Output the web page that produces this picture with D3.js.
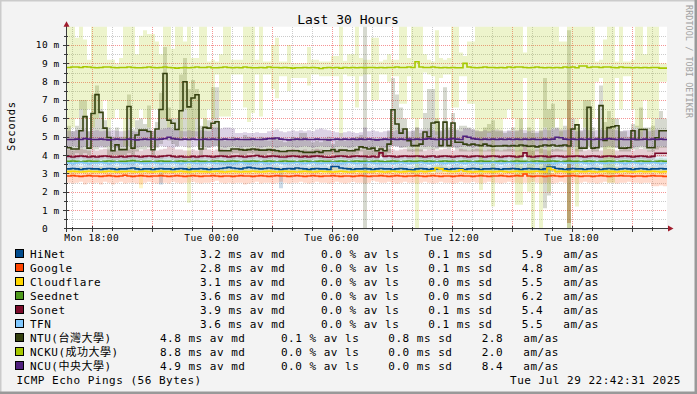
<!DOCTYPE html>
<html><head><meta charset="utf-8">
<script src="https://cdn.jsdelivr.net/npm/d3@7"></script>
<style>
html,body{margin:0;padding:0;background:#f3f3f3;}
svg{display:block;}
text{font-family:"DejaVu Sans Mono","Noto Sans CJK TC",monospace;}
</style></head><body>
<svg id="c" width="697" height="394"></svg>
<script>
// ---------- DATA ----------
const hosts = ["HiNet","Google","Cloudflare","Seednet","Sonet","TFN","NTU(台灣大學)","NCKU(成功大學)","NCU(中央大學)"];
const hostColors = ["#004b8d","#ff4500","#ffd700","#4f9a1e","#7b0a2a","#80c8ff","#34400f","#a6c800","#4f1f7d"];
const medianMs = [3.2,2.8,3.1,3.6,3.9,3.6,4.8,8.8,4.9];
const lossPct  = [0.0,0.0,0.0,0.0,0.0,0.0,0.1,0.0,0.0];
const sdMs     = [0.1,0.1,0.0,0.0,0.1,0.1,0.8,0.0,0.0];
const amas     = [5.9,4.8,5.5,6.2,5.4,5.5,2.8,2.0,8.4];
const yTickValues = [0,1,2,3,4,5,6,7,8,9,10];
const titleText = "Last 30 Hours";
const footerText = "ICMP Echo Pings (56 Bytes)";
const dateText = "Tue Jul 29 22:42:31 2025";

// 150 bins of 12 minutes, starting Mon 28 Jul 16:46
const hinetMed = [3.25,3.27,3.25,3.22,3.25,3.27,3.25,3.25,3.22,3.25, 3.27,3.25,3.22,3.25,3.25,3.27,3.3,3.25,3.22,3.25, 3.25,3.22,3.25,3.27,3.25,3.25,3.22,3.25,3.27,3.25, 3.22,3.25,3.25,3.27,3.25,3.22,3.25,3.25,3.27,3.3, 3.33,3.3,3.27,3.25,3.3,3.33,3.3,3.27,3.25,3.27, 3.3,3.27,3.25,3.22,3.25,3.27,3.25,3.3,3.27,3.25, 3.22,3.25,3.27,3.25,3.25,3.22,3.38,3.38,3.3,3.27, 3.25,3.22,3.25,3.25,3.27,3.25,3.22,3.25,3.27,3.25, 3.25,3.22,3.25,3.27,3.25,3.22,3.2,3.25,3.27,3.25, 3.22,3.25,3.25,3.27,3.25,3.22,3.25,3.27,3.25,3.22, 3.25,3.27,3.25,3.22,3.25,3.25,3.27,3.25,3.22,3.25, 3.25,3.27,3.25,3.22,3.25,3.27,3.25,3.25,3.22,3.25, 3.35,3.35,3.27,3.25,3.22,3.25,3.27,3.25,3.25,3.22, 3.25,3.27,3.25,3.22,3.25,3.27,3.25,3.22,3.25,3.27, 3.25,3.22,3.25,3.27,3.25,3.22,3.25,3.25,3.27,3.25];
const hinetLo = [3.1,3.05,3.1,3.1,3.05,3.1,3.05,3.1,3.05,3.1, 3.05,3.1,3.05,3.1,3.1,3.05,3.1,3.05,3.1,3.05, 3.1,3.05,3.1,2.4,3.05,3.1,3.05,3.1,3.05,3.1, 3.05,3.1,3.05,3.1,3.1,3.05,3.1,3.05,3.1,3.1, 3.15,3.1,3.1,3.05,3.1,3.15,3.1,3.1,3.05,3.1, 3.1,3.05,3.1,2.2,3.05,3.1,3.05,3.1,3.05,3.1, 3.05,3.1,3.05,3.1,3.1,3.05,3.15,3.15,3.1,3.05, 3.1,3.05,3.1,3.1,3.05,3.1,3.05,3.1,3.05,3.1, 3.05,3.1,3.05,3.1,3.1,3.05,3.0,3.1,3.05,3.1, 3.05,3.1,3.05,3.1,3.1,3.05,3.1,3.05,3.1,3.05, 3.1,3.05,3.1,3.05,3.1,3.1,3.05,3.1,3.05,3.1, 3.05,3.1,3.05,3.1,3.05,3.1,3.1,3.05,3.1,3.05, 3.1,3.1,3.05,3.1,3.05,3.05,3.05,3.1,3.05,3.1, 3.05,3.1,3.05,3.1,3.1,3.05,3.1,3.05,3.1,3.05, 3.1,3.05,3.1,3.05,3.1,3.1,3.05,3.1,3.05,3.1];
const hinetHi = [3.45,3.5,3.45,3.4,3.45,3.5,3.45,3.45,3.4,3.45, 3.5,3.45,3.4,3.45,3.45,3.5,3.55,3.45,3.4,3.45, 3.45,3.4,3.45,3.5,3.45,3.45,3.4,3.45,3.5,3.45, 3.4,3.45,3.45,3.5,3.45,3.4,3.45,3.45,3.5,3.55, 3.55,3.5,3.5,3.45,3.5,3.55,3.5,3.5,3.45,3.5, 3.5,3.45,3.45,3.4,3.45,3.5,3.45,3.5,3.5,3.45, 3.4,3.45,3.5,3.45,3.45,3.4,3.6,3.6,3.5,3.5, 3.45,3.4,3.45,3.45,3.5,3.45,3.4,3.45,3.5,3.45, 3.45,3.4,3.45,3.5,3.45,3.4,3.4,3.45,3.5,3.45, 3.4,3.45,3.45,3.5,3.45,3.4,3.45,3.5,3.45,3.4, 3.45,3.5,3.45,3.4,3.45,3.45,3.5,3.45,3.4,3.45, 3.45,3.5,3.45,3.4,3.45,3.5,3.45,3.45,3.4,3.45, 3.55,3.55,3.5,3.45,3.4,3.5,3.5,3.45,3.45,3.4, 3.45,3.5,3.45,3.4,3.45,3.5,3.45,3.4,3.45,3.5, 3.45,3.4,3.45,3.5,3.45,3.4,3.45,3.45,3.5,3.45];

const googleMed = [2.86,2.88,2.86,2.84,2.86,2.88,2.86,2.86,2.84,2.86, 2.88,2.86,2.84,2.86,2.9,2.86,2.84,2.86,2.88,2.86, 2.84,2.86,2.86,2.88,2.86,2.84,2.86,2.88,2.86,2.84, 2.86,2.88,2.86,2.84,2.86,2.86,2.88,2.86,2.84,2.86, 2.86,2.84,2.86,2.88,2.86,2.86,2.84,2.86,2.88,2.86, 2.84,2.86,2.88,2.86,2.86,2.84,2.86,2.88,2.86,2.84, 2.86,2.88,2.86,2.84,2.86,2.86,2.88,2.86,2.84,2.86, 2.86,2.84,2.86,2.88,2.86,2.84,2.86,2.86,2.88,2.86, 2.84,2.86,2.88,2.86,2.84,2.86,2.86,2.88,2.86,2.84, 2.86,2.88,2.86,2.84,2.86,2.86,2.84,2.86,2.88,2.86, 2.86,2.84,2.86,2.88,2.86,2.84,2.86,2.86,2.88,2.86, 2.84,2.86,2.88,2.86,2.97,2.86,2.84,2.86,2.86,2.84, 2.86,2.88,2.86,2.84,2.86,2.86,2.88,2.86,2.84,2.86, 2.86,2.84,2.86,2.88,2.86,2.84,2.86,2.86,2.88,2.86, 2.86,2.84,2.86,2.86,2.84,2.86,2.88,2.86,2.86,2.84];
const googleLo = [2.5,2.45,2.5,2.55,2.4,2.5,2.45,2.5,2.4,2.55, 2.5,2.4,2.5,2.55,2.45,2.5,2.5,2.45,2.4,2.5, 2.55,2.5,2.45,2.5,2.5,2.45,2.55,2.5,2.45,2.5, 2.5,2.55,2.5,2.45,2.5,2.5,2.55,2.6,2.5,2.45, 2.5,2.45,2.5,2.5,2.4,2.45,2.5,2.55,2.45,2.5, 2.5,2.45,2.5,2.55,2.5,2.45,2.5,2.5,2.55,2.5, 2.45,2.5,2.55,2.5,2.5,2.45,2.5,2.55,2.5,2.45, 2.5,2.55,2.5,2.5,2.45,2.5,2.6,2.55,2.5,2.5, 2.55,2.5,2.45,2.5,2.55,2.5,2.5,2.45,2.5,2.55, 2.5,2.45,2.5,2.55,2.5,2.5,2.45,2.5,2.55,2.5, 2.5,2.55,2.5,2.45,2.5,2.55,2.5,2.5,2.45,2.5, 2.55,2.5,2.5,2.45,2.5,2.5,2.55,2.5,2.45,2.5, 2.5,2.45,2.5,2.55,2.5,0.3,2.5,2.45,2.5,2.55, 2.5,2.5,2.45,2.5,2.55,2.5,2.5,2.45,2.5,2.5, 2.55,2.5,2.5,2.45,2.5,2.5,2.3,2.3,2.35,2.3];
const googleHi = [3.05,3.1,3.05,3.0,3.05,3.1,3.05,3.05,3.0,3.1, 3.05,3.0,3.05,3.1,3.05,3.05,3.1,3.0,3.05,3.05, 3.1,3.05,3.0,3.05,3.1,3.05,3.05,3.0,3.05,3.1, 3.05,3.0,3.05,3.05,3.1,3.05,3.0,3.05,3.1,3.05, 3.05,3.1,3.05,3.0,3.05,3.1,3.05,3.05,3.0,3.05, 3.1,3.05,3.0,3.05,3.05,3.1,3.05,3.0,3.05,3.1, 3.05,3.05,3.1,3.05,3.0,3.05,3.1,3.05,3.05,3.0, 3.05,3.1,3.05,3.05,3.0,3.05,3.1,3.05,3.0,3.05, 3.1,3.05,3.0,3.05,3.1,3.05,3.05,3.0,3.05,3.1, 3.05,3.0,3.05,3.1,3.05,3.05,3.0,3.05,3.1,3.05, 3.05,3.1,3.05,3.0,3.05,3.1,3.05,3.05,3.0,3.05, 3.1,3.05,3.0,3.05,3.15,3.05,3.05,3.0,3.05,3.1, 3.05,3.0,3.05,3.1,3.05,7.0,3.05,3.0,3.05,3.1, 3.05,3.1,3.05,3.0,3.05,3.1,3.05,3.05,3.0,3.05, 3.1,3.05,3.0,3.05,3.1,3.05,3.05,3.0,3.05,3.1];

const cloudflareMed = [3.1,3.12,3.1,3.08,3.1,3.12,3.1,3.1,3.08,3.1, 3.12,3.1,3.08,3.1,3.1,3.12,3.1,3.08,3.1,3.12, 3.1,3.08,3.1,3.12,3.1,3.1,3.08,3.1,3.12,3.1, 3.08,3.1,3.12,3.1,3.1,3.08,3.1,3.12,3.1,3.08, 3.1,3.12,3.1,3.08,3.1,3.1,3.12,3.1,3.08,3.1, 3.12,3.1,3.08,3.1,3.12,3.1,3.1,3.08,3.1,3.12, 3.1,3.08,3.1,3.12,3.1,3.1,3.08,3.1,3.12,3.1, 3.08,3.1,3.12,3.1,3.1,3.08,3.1,3.12,3.1,3.08, 3.1,3.12,3.1,3.08,3.1,3.12,3.1,3.1,3.12,3.1, 3.12,3.15,3.3,3.25,3.15,3.12,3.1,3.12,3.2,3.12, 3.1,3.08,3.1,3.12,3.1,3.1,3.08,3.1,3.12,3.1, 3.08,3.1,3.12,3.1,3.1,3.08,3.1,3.12,3.1,3.08, 3.3,3.2,3.1,3.12,3.1,3.08,3.1,3.12,3.1,3.1, 3.12,3.1,3.08,3.1,3.12,3.1,3.1,3.08,3.1,3.12, 3.1,3.08,3.1,3.12,3.1,3.1,3.12,3.1,3.08,3.1];
const cloudflareLo = [2.95,2.9,2.95,3.0,2.95,2.9,2.95,2.95,3.0,2.95, 2.9,2.95,3.0,2.95,2.9,2.95,2.95,3.0,2.2,2.95, 2.95,3.0,2.95,2.9,2.95,2.95,3.0,2.95,2.9,2.95, 3.0,2.95,2.9,2.95,2.95,3.0,2.95,2.9,2.95,2.95, 2.95,2.9,2.95,3.0,2.95,2.9,2.95,2.95,3.0,2.95, 2.9,2.95,3.0,2.95,2.9,2.95,2.95,3.0,2.95,2.9, 2.95,3.0,2.95,2.9,2.95,2.95,3.0,2.95,2.9,2.95, 3.0,2.95,2.9,2.95,2.95,3.0,2.95,2.9,2.95,2.95, 2.95,2.9,2.95,3.0,2.95,2.9,2.95,2.95,3.0,2.95, 2.9,2.95,3.0,3.0,2.95,2.9,2.95,2.95,3.0,2.95, 2.95,3.0,2.95,2.9,2.95,2.95,3.0,2.95,2.9,2.95, 3.0,2.95,2.9,2.95,2.95,3.0,2.95,2.9,2.95,2.95, 2.95,2.9,2.95,3.0,2.95,2.95,2.95,2.95,3.0,2.95, 2.9,2.95,3.0,2.95,2.9,2.95,2.95,3.0,2.95,2.9, 2.95,3.0,2.95,2.9,2.95,2.95,3.0,2.95,2.9,2.95];
const cloudflareHi = [3.3,3.25,3.3,3.35,3.3,3.25,3.3,3.3,3.35,3.3, 3.25,3.3,3.35,3.3,3.25,3.3,3.3,3.35,3.3,3.25, 3.3,3.35,3.3,3.25,3.3,3.3,3.35,3.3,3.25,3.3, 3.35,3.3,3.25,3.3,3.3,3.35,3.3,3.25,3.3,3.3, 3.3,3.25,3.3,3.35,3.3,3.25,3.3,3.3,3.35,3.3, 3.25,3.3,3.35,3.3,3.25,3.3,3.3,3.35,3.3,3.25, 3.3,3.35,3.3,3.25,3.3,3.3,3.35,3.3,3.25,3.3, 3.35,3.3,3.25,3.3,3.3,3.35,3.3,3.25,3.3,3.3, 3.3,3.25,3.3,3.35,3.3,3.25,3.3,3.3,3.35,3.3, 3.3,3.35,3.45,3.45,3.35,3.3,3.3,3.3,3.4,3.3, 3.3,3.35,3.3,3.25,3.3,3.3,3.35,3.3,3.25,3.3, 3.35,3.3,3.25,3.3,3.3,3.35,3.3,3.25,3.3,3.3, 3.45,3.4,3.3,3.35,3.3,3.3,3.3,3.3,3.35,3.3, 3.25,3.3,3.35,3.3,3.25,3.3,3.3,3.35,3.3,3.25, 3.3,3.35,3.3,3.25,3.3,3.3,3.35,3.3,3.25,3.3];

const seednetMed = [3.66,3.68,3.66,3.64,3.66,3.68,3.66,3.66,3.64,3.66, 3.68,3.66,3.64,3.66,3.66,3.68,3.7,3.66,3.64,3.66, 3.66,3.64,3.66,3.68,3.66,3.66,3.64,3.66,3.68,3.66, 3.64,3.66,3.68,3.66,3.66,3.64,3.66,3.68,3.66,3.64, 3.66,3.68,3.66,3.64,3.66,3.66,3.68,3.66,3.64,3.66, 3.68,3.66,3.64,3.66,3.68,3.66,3.66,3.64,3.66,3.68, 3.66,3.64,3.66,3.68,3.66,3.66,3.64,3.66,3.68,3.66, 3.64,3.66,3.68,3.66,3.66,3.64,3.66,3.68,3.66,3.64, 3.66,3.68,3.66,3.64,3.66,3.68,3.66,3.66,3.68,3.66, 3.68,3.66,3.64,3.66,3.68,3.66,3.66,3.64,3.66,3.68, 3.66,3.64,3.66,3.68,3.66,3.66,3.64,3.66,3.68,3.66, 3.64,3.66,3.68,3.66,3.66,3.64,3.66,3.68,3.66,3.64, 3.66,3.68,3.66,3.64,3.66,3.68,3.66,3.66,3.64,3.66, 3.68,3.66,3.64,3.66,3.66,3.68,3.66,3.64,3.66,3.68, 3.66,3.64,3.66,3.68,3.66,3.66,3.64,3.66,3.68,3.66];
const seednetLo = [3.52,3.5,3.52,3.55,3.52,3.5,3.52,3.52,3.55,3.52, 3.5,3.52,3.55,3.52,3.5,3.52,3.52,3.55,3.52,3.5, 3.52,3.55,3.52,3.5,3.52,3.52,3.55,3.52,3.5,3.52, 3.55,3.52,3.5,3.52,3.52,3.55,3.52,3.5,3.52,3.52, 3.52,3.5,3.52,3.55,3.52,3.5,3.52,3.52,3.55,3.52, 3.5,3.52,3.55,3.52,3.5,3.52,3.52,3.55,3.52,3.5, 3.52,3.55,3.52,3.5,3.52,3.52,3.55,3.52,3.5,3.52, 3.55,3.52,3.5,3.52,3.52,3.55,3.52,3.5,3.52,3.52, 3.52,3.5,3.52,3.55,3.52,3.5,3.52,3.52,3.55,3.52, 3.5,3.52,3.55,3.52,3.5,3.52,3.52,3.55,3.52,3.5, 3.52,3.55,3.52,3.5,3.52,3.52,3.55,3.52,3.5,3.52, 3.55,3.52,3.5,3.52,3.52,3.55,3.52,3.5,3.52,3.52, 3.52,3.5,3.52,3.55,3.52,3.52,3.52,3.52,3.55,3.52, 3.5,3.52,3.55,3.52,3.5,3.52,3.52,3.55,3.52,3.5, 3.52,3.55,3.52,3.5,3.52,3.52,3.55,3.52,3.5,3.52];
const seednetHi = [3.82,3.85,3.82,3.8,3.82,3.85,3.82,3.82,3.8,3.82, 3.85,3.82,3.8,3.82,3.82,3.85,3.88,3.82,3.8,3.82, 3.82,3.8,3.82,3.85,3.82,3.82,3.8,3.82,3.85,3.82, 3.8,3.82,3.85,3.82,3.82,3.8,3.82,3.85,3.82,3.8, 3.82,3.85,3.82,3.8,3.82,3.82,3.85,3.82,3.8,3.82, 3.85,3.82,3.8,3.82,3.85,3.82,3.82,3.8,3.82,3.85, 3.82,3.8,3.82,3.85,3.82,3.82,3.8,3.82,3.85,3.82, 3.8,3.82,3.85,3.82,3.82,3.8,3.82,3.85,3.82,3.8, 3.82,3.85,3.82,3.8,3.82,3.85,3.82,3.82,3.85,3.82, 3.85,3.82,3.8,3.82,3.85,3.82,3.82,3.8,3.82,3.85, 3.82,3.8,3.82,3.85,3.82,3.82,3.8,3.82,3.85,3.82, 3.8,3.82,3.85,3.82,3.82,3.8,3.82,3.85,3.82,3.8, 3.82,3.85,3.82,3.8,3.82,3.82,3.82,3.82,3.8,3.82, 3.85,3.82,3.8,3.82,3.82,3.85,3.82,3.8,3.82,3.85, 3.82,3.8,3.82,3.85,3.82,3.82,3.8,3.82,3.85,3.82];

const sonetMed = [3.93,3.9,3.93,3.95,3.93,3.9,3.93,3.9,3.93,3.95, 3.93,3.9,3.9,3.93,3.9,3.93,3.95,3.93,3.9,3.93, 3.95,3.93,3.9,3.93,3.95,3.98,3.93,3.9,3.93,3.9, 3.9,3.93,3.9,3.93,3.95,3.93,3.9,3.93,3.95,3.93, 3.9,3.93,3.95,3.93,3.9,3.93,3.95,3.98,3.93,3.9, 3.93,3.95,3.93,3.9,3.9,3.93,3.95,3.93,3.9,3.93, 3.9,3.93,3.95,3.93,3.9,3.88,3.9,3.93,3.95,3.93, 3.9,3.93,3.95,3.93,3.93,3.9,3.93,3.9,4.12,3.93, 3.95,3.93,3.9,3.93,3.95,3.93,3.93,3.95,3.93,3.9, 3.93,3.95,3.9,3.93,3.95,3.93,3.9,3.93,3.95,3.93, 3.9,3.93,3.95,3.93,3.9,3.93,3.95,3.93,3.9,3.93, 3.95,3.93,3.9,3.93,4.12,3.93,3.9,3.93,3.95,3.93, 3.9,3.93,3.95,3.93,3.9,3.93,3.93,3.95,3.93,3.9, 3.93,3.95,3.93,3.9,3.93,3.95,3.93,3.9,3.93,3.95, 3.93,3.9,3.93,3.95,3.93,3.9,3.93,4.1,4.1,4.1];
const sonetLo = [3.78,3.75,3.78,3.8,3.78,3.75,3.78,3.75,3.78,3.8, 3.78,3.75,3.75,3.78,3.75,3.78,3.8,3.78,3.75,3.78, 3.8,3.78,3.75,3.78,3.8,3.82,3.78,3.75,3.78,3.75, 3.75,3.78,3.75,3.78,3.8,3.78,3.75,3.78,3.8,3.78, 3.75,3.78,3.8,3.78,3.75,3.78,3.8,3.82,3.78,3.75, 3.78,3.8,3.78,3.75,3.75,3.78,3.8,3.78,3.75,3.78, 3.75,3.78,3.8,3.78,3.75,3.72,3.75,3.78,3.8,3.78, 3.75,3.78,3.8,3.78,3.78,3.75,3.78,3.75,3.9,3.78, 3.8,3.78,3.75,3.78,3.8,3.78,3.78,3.8,3.78,3.75, 3.78,3.8,3.75,3.78,3.8,3.78,3.75,3.78,3.8,3.78, 3.75,3.78,3.8,3.78,3.75,3.78,3.8,3.78,3.75,3.78, 3.8,3.78,3.75,3.78,3.9,3.78,3.75,3.78,3.8,3.78, 3.75,3.78,3.8,3.78,3.75,0.3,3.78,3.8,3.78,3.75, 3.78,3.8,3.78,3.75,3.78,3.8,3.78,3.75,3.78,3.8, 3.78,3.75,3.78,3.8,3.78,3.75,3.78,3.9,3.9,3.9];
const sonetHi = [4.3,4.25,4.3,4.35,4.3,4.25,4.3,4.25,4.3,4.35, 4.3,4.25,4.25,4.3,4.25,4.3,4.35,4.3,4.25,4.3, 4.35,4.3,4.25,4.3,4.35,4.45,4.4,4.3,4.3,4.25, 4.25,4.3,4.25,4.3,4.35,4.3,4.25,4.3,4.35,4.3, 4.25,4.3,4.35,4.3,4.25,4.3,4.35,4.4,4.3,4.25, 4.3,4.35,4.3,4.25,4.25,4.3,4.35,4.3,4.25,4.3, 4.25,4.3,4.35,4.3,4.25,4.2,4.25,4.3,4.35,4.3, 4.25,4.3,4.35,4.3,4.3,4.25,4.3,4.25,4.45,4.3, 4.35,4.3,4.25,4.3,4.35,4.3,4.3,4.35,4.3,4.25, 4.3,4.35,4.25,4.3,4.35,4.3,4.25,4.3,4.35,4.3, 4.25,4.3,4.35,4.3,4.25,4.3,4.35,4.3,4.25,4.3, 4.35,4.3,4.25,4.3,4.45,4.3,4.25,4.3,4.35,4.3, 4.25,4.3,4.35,4.3,4.25,7.0,4.3,4.35,4.3,4.25, 4.3,4.35,4.3,4.25,4.3,4.35,4.3,4.25,4.3,4.35, 4.3,4.25,4.3,4.35,4.3,4.25,4.3,4.45,4.45,4.45];

const tfnMed = [3.57,3.55,3.57,3.6,3.57,3.55,3.57,3.57,3.6,3.57, 3.55,3.57,3.6,3.57,3.55,3.57,3.57,3.6,3.57,3.55, 3.57,3.6,3.57,3.55,3.57,3.57,3.6,3.57,3.55,3.57, 3.6,3.57,3.55,3.57,3.57,3.6,3.57,3.55,3.57,3.57, 3.57,3.55,3.57,3.6,3.57,3.55,3.57,3.57,3.6,3.57, 3.55,3.57,3.6,3.57,3.55,3.57,3.57,3.6,3.57,3.55, 3.57,3.6,3.57,3.55,3.57,3.57,3.6,3.57,3.55,3.57, 3.6,3.57,3.55,3.57,3.57,3.6,3.57,3.55,3.57,3.57, 3.57,3.55,3.57,3.6,3.57,3.55,3.57,3.57,3.6,3.57, 3.55,3.57,3.6,3.57,3.55,3.57,3.57,3.6,3.57,3.55, 3.57,3.6,3.57,3.55,3.57,3.57,3.6,3.57,3.55,3.57, 3.6,3.57,3.55,3.57,3.57,3.6,3.57,3.55,3.57,3.57, 3.57,3.55,3.57,3.6,3.57,3.57,3.57,3.57,3.6,3.57, 3.55,3.57,3.6,3.57,3.55,3.57,3.57,3.6,3.57,3.55, 3.57,3.6,3.57,3.55,3.57,3.57,3.6,3.57,3.55,3.57];
const tfnLo = [3.4,3.38,3.42,3.4,3.38,3.4,3.42,3.4,3.38,3.4, 3.42,3.4,3.38,3.4,3.42,3.4,3.38,3.4,3.42,3.4, 3.38,3.4,3.42,3.4,3.38,3.4,3.42,3.4,3.38,3.4, 3.42,3.4,3.38,3.4,3.42,3.4,3.38,3.4,3.42,3.4, 3.38,3.4,3.42,3.4,3.38,3.4,3.42,3.4,3.38,3.4, 3.42,3.4,3.38,3.4,3.42,3.4,3.38,3.4,3.42,3.4, 3.38,3.4,3.42,3.4,3.38,3.4,3.42,3.4,3.38,3.4, 3.42,3.4,3.38,3.4,3.42,3.4,3.38,3.4,3.42,3.4, 3.38,3.4,3.42,3.4,3.38,3.4,3.42,3.4,3.38,3.4, 3.42,3.4,3.38,3.4,3.42,3.4,3.38,3.4,3.42,3.4, 3.38,3.4,3.42,3.4,3.38,3.4,3.42,3.4,3.38,3.4, 3.42,3.4,3.38,3.4,3.42,3.4,3.38,3.4,3.42,3.4, 3.38,3.4,3.42,3.4,3.38,3.4,3.42,3.4,3.38,3.4, 3.42,3.4,3.38,3.4,3.42,3.4,3.38,3.4,3.42,3.4, 3.38,3.4,3.42,3.4,3.38,3.4,3.42,3.4,3.38,3.4];
const tfnHi = [3.9,3.92,3.88,3.9,3.92,3.9,3.88,3.9,3.92,3.9, 3.88,3.9,3.92,3.9,3.88,3.9,3.92,3.9,3.88,3.9, 3.92,3.9,3.88,3.9,3.92,3.9,3.88,3.9,3.92,3.9, 3.88,3.9,3.92,3.9,3.88,3.9,3.92,3.9,3.88,3.9, 3.92,3.9,3.88,3.9,3.92,3.9,3.88,3.9,3.92,3.9, 3.88,3.9,3.92,3.9,3.88,3.9,3.92,3.9,3.88,3.9, 3.92,3.9,3.88,3.9,3.92,3.9,3.88,3.9,3.92,3.9, 3.88,3.9,3.92,3.9,3.88,3.9,3.92,3.9,3.88,3.9, 3.92,3.9,3.88,3.9,3.92,3.9,3.88,3.9,3.92,3.9, 3.88,3.9,3.92,3.9,3.88,3.9,3.92,3.9,3.88,3.9, 3.92,3.9,3.88,3.9,3.92,3.9,3.88,3.9,3.92,3.9, 3.88,3.9,3.92,3.9,3.88,3.9,3.92,3.9,3.88,3.9, 3.92,3.9,3.88,3.9,3.92,3.9,3.88,3.9,3.92,3.9, 3.88,3.9,3.92,3.9,3.88,3.9,3.92,3.9,3.88,3.9, 3.92,3.9,3.88,3.9,3.92,3.9,3.88,3.9,3.92,3.9];

const ntuMed = [4.4,4.33,4.33,5.33,6.1,4.38,6.27,7.3,6.33,5.47, 4.96,4.24,4.56,4.3,4.3,6.65,4.38,5.1,5.36,5.36, 5.29,4.29,5.42,6.49,8.45,5.9,5.74,5.4,6.42,8.0, 6.63,7.11,7.29,4.33,5.51,5.47,5.74,5.82,4.24,4.24, 4.24,4.33,4.33,4.3,4.27,4.3,4.33,4.3,4.27,4.27, 4.3,4.27,4.24,4.2,4.2,4.24,4.24,4.24,4.2,4.15, 4.15,4.15,4.2,4.15,4.24,4.24,4.3,4.2,4.27,4.27, 4.24,4.24,4.3,4.45,4.4,4.33,4.38,4.24,4.33,4.24, 4.6,6.47,5.7,5.2,5.42,4.79,4.52,4.52,4.6,5.26, 5.0,5.75,5.8,4.52,5.8,4.52,5.75,4.7,4.7,4.6, 4.55,4.6,4.55,4.52,4.6,4.52,4.48,4.5,4.5,4.52, 4.5,4.52,4.5,4.55,4.52,4.48,4.5,4.45,4.5,4.55, 4.52,4.55,4.5,4.52,4.55,4.5,5.42,5.65,4.38,4.38, 6.6,4.38,4.4,6.7,4.8,5.5,5.55,5.6,4.38,4.38, 4.4,5.33,4.85,5.4,5.4,4.4,4.4,4.95,5.33,5.33];
const ntuLo = [4.0,4.0,4.1,4.0,4.1,4.0,4.3,4.3,4.5,4.4, 4.0,4.0,4.0,4.0,4.0,4.1,4.0,4.2,4.3,4.3, 4.4,4.0,4.4,4.6,5.0,4.8,4.6,4.5,4.8,5.0, 4.8,4.9,5.0,4.0,4.3,4.4,4.5,4.5,4.0,4.0, 4.0,4.1,4.1,4.0,4.0,4.1,4.1,4.0,4.0,4.0, 4.1,4.0,4.0,3.95,3.95,4.0,4.0,4.0,3.95,3.9, 3.9,3.9,3.95,3.9,4.0,4.0,4.05,3.95,4.0,4.0, 4.0,4.0,4.05,4.2,0.0,4.0,4.0,4.0,4.0,4.0, 4.1,4.5,4.5,4.4,4.4,4.2,4.2,4.2,4.2,4.3, 4.3,4.3,4.3,4.4,4.4,4.3,4.4,4.3,4.2,4.2, 4.2,4.2,4.2,4.2,4.2,4.2,4.2,4.2,4.2,4.2, 4.2,4.2,4.2,4.2,4.2,4.0,4.0,4.2,4.1,1.1, 1.8,4.2,4.2,4.2,4.2,0.0,4.3,4.2,4.2,4.3, 4.4,4.2,4.2,4.4,4.3,4.4,4.4,4.4,4.2,4.2, 4.2,4.3,4.3,4.4,4.3,4.2,4.2,4.3,4.4,4.4];
const ntuHi = [5.6,5.3,5.6,7.0,7.0,5.3,7.3,7.8,6.5,5.9, 5.5,5.0,5.5,5.0,5.0,7.3,5.4,5.9,6.0,5.7, 6.7,5.3,5.8,7.4,9.9,6.6,6.0,6.0,8.4,9.3, 7.6,8.1,7.6,5.6,6.0,5.9,7.7,7.7,4.9,4.8, 4.8,5.0,4.9,4.8,5.1,5.0,4.9,4.8,5.0,4.9, 4.8,5.0,4.9,4.8,4.7,4.8,5.0,4.9,5.2,5.2, 4.8,4.7,4.8,4.7,4.9,5.0,4.6,4.8,4.9,4.8, 4.8,4.9,5.0,5.1,11.5,4.8,4.9,4.9,4.9,4.9, 5.3,8.2,7.3,6.6,6.0,5.0,5.3,5.5,5.2,6.3, 7.6,7.6,6.0,5.3,7.7,5.5,6.3,5.4,5.6,5.6, 5.5,5.4,5.3,5.3,5.5,5.7,5.9,5.3,5.3,5.2, 5.3,5.5,5.3,6.0,5.2,5.5,5.2,5.2,5.3,8.2, 6.5,6.8,5.5,5.3,5.6,10.8,6.0,5.5,5.3,7.0, 7.0,5.5,5.0,7.8,5.8,6.4,6.0,6.0,5.3,5.3, 5.0,5.7,5.6,6.6,5.5,5.5,5.6,6.0,6.4,6.0];

const nckuMed = [8.78,8.8,8.8,8.78,8.82,8.8,8.78,8.76,8.78,8.8, 8.8,8.78,8.76,8.78,8.78,8.8,8.78,8.76,8.76,8.78, 8.8,8.78,8.76,8.78,8.8,8.78,8.76,8.74,8.76,8.78, 8.76,8.78,8.8,8.78,8.78,8.8,8.76,8.76,8.78,8.8, 8.78,8.76,8.78,8.76,8.8,8.78,8.76,8.76,8.78,8.76, 8.8,8.78,8.78,8.76,8.78,8.76,8.74,8.76,8.76,8.78, 8.76,8.78,8.76,8.72,8.76,8.78,8.76,8.78,8.74,8.78, 8.76,8.78,8.76,8.78,8.76,8.78,8.78,8.76,8.78,8.76, 8.78,8.78,8.8,8.78,8.78,8.8,8.78,9.09,8.8,8.78, 8.78,8.8,8.78,8.76,8.78,8.76,8.78,8.76,8.76,9.0, 8.8,8.78,8.76,8.78,8.8,8.78,8.78,8.76,8.78,8.76, 8.8,8.78,8.8,8.8,8.78,8.76,8.78,8.8,8.78,8.76, 8.78,8.76,8.78,8.76,8.8,8.78,8.8,8.76,8.86,8.86, 8.78,8.8,8.8,8.78,8.8,8.8,8.78,8.76,8.8,8.78, 8.78,8.76,8.78,8.76,8.78,8.76,8.78,8.78,8.74,8.74];
const nckuLo = [5.0,5.5,6.0,6.5,6.0,6.5,5.5,6.0,6.5,7.0, 5.5,6.0,6.5,6.0,4.5,6.0,5.5,6.0,6.5,6.0, 5.5,6.5,6.5,6.0,6.0,5.5,6.0,6.0,4.8,6.5, 1.4,5.0,6.0,6.0,5.5,6.5,6.0,8.4,6.1,6.1, 6.1,8.4,8.4,8.4,6.6,5.8,6.3,8.4,6.1,8.4, 8.4,7.6,7.1,8.3,8.3,7.5,8.2,8.2,8.2,8.2, 7.8,8.4,8.4,8.3,8.3,8.3,8.3,8.3,5.0,8.4, 8.3,8.3,6.6,8.3,8.4,8.4,7.0,7.0,8.4,8.4, 8.0,8.3,8.3,6.8,6.8,8.3,6.0,0.0,6.0,8.5, 8.4,8.3,5.1,8.2,8.4,8.4,6.6,6.6,8.3,8.3, 6.8,6.8,5.0,2.1,5.0,5.2,1.2,5.0,5.0,6.0, 6.5,6.0,1.3,1.3,8.2,2.0,0.0,6.0,0.0,5.5, 2.0,5.5,6.0,5.0,6.0,0.0,6.0,1.2,6.0,5.5, 5.0,6.0,8.0,8.2,3.0,2.5,2.5,8.2,6.5,8.3, 8.3,6.5,5.5,5.0,7.0,6.0,5.0,6.0,8.0,8.0];
const nckuHi = [11.5,11.5,10.4,11.5,10.3,9.2,11.5,11.5,11.5,11.5, 9.2,9.2,9.0,9.3,11.5,11.5,11.5,9.5,10.5,10.8, 10.6,10.6,10.2,9.5,11.5,11.5,9.8,11.5,11.5,10.2, 11.5,9.3,9.3,11.5,11.5,9.1,9.2,9.1,9.5,11.5, 11.5,9.2,9.2,9.2,11.5,11.5,11.5,9.2,11.5,9.1, 9.1,10.0,10.4,9.1,9.1,10.0,9.0,9.0,9.0,9.0, 9.9,9.2,9.2,9.1,9.1,9.1,9.4,9.4,11.5,9.15, 9.5,9.5,11.5,9.3,9.2,9.2,10.4,10.4,9.1,9.2, 9.5,9.2,9.2,11.5,11.5,9.3,11.5,11.5,11.5,9.5, 9.2,9.1,10.8,9.3,9.2,9.3,11.5,11.5,9.6,9.4, 10.2,10.2,11.5,11.5,11.5,11.5,11.5,11.5,11.5,11.5, 11.5,11.5,11.5,11.5,9.6,11.5,11.5,11.5,11.5,11.5, 11.5,11.5,11.5,10.2,10.2,11.5,11.5,11.5,11.5,11.5, 11.5,11.5,9.1,9.2,10.3,11.5,11.5,9.1,11.5,9.1, 9.1,9.2,11.5,11.5,9.5,11.5,11.5,11.5,9.0,9.0];

const ncuMed = [4.85,4.85,4.87,4.85,4.9,4.87,4.85,4.85,4.87,4.85, 4.83,4.85,4.87,4.85,4.85,4.87,4.85,4.83,4.85,4.87, 4.85,4.87,4.85,4.87,4.9,4.97,4.9,4.87,4.85,4.87, 4.85,4.87,4.85,4.85,4.87,4.85,4.87,4.85,4.85,4.87, 4.85,4.85,4.87,4.85,4.85,4.85,4.87,4.85,4.85,4.87, 4.9,4.9,4.93,4.87,4.85,4.83,4.85,4.87,4.85,4.87, 4.85,4.85,4.87,4.85,4.85,4.83,4.85,4.87,4.85,4.87, 4.85,4.87,4.85,4.87,4.85,4.87,4.85,4.83,4.85,4.87, 4.85,4.87,4.85,4.87,4.85,4.87,4.85,4.87,4.85,4.87, 4.9,4.87,4.85,4.87,4.85,4.87,4.9,4.87,4.85,5.03, 4.97,4.9,4.87,4.85,4.87,4.85,4.87,4.85,4.87,4.85, 4.87,4.85,4.87,4.85,4.87,4.85,4.87,4.85,4.85,4.87, 4.85,4.87,4.97,4.95,4.87,4.85,4.87,4.85,4.87,4.85, 4.87,4.85,4.87,4.85,4.87,4.9,4.87,4.85,4.87,4.85, 4.85,4.87,4.85,4.85,4.87,4.85,4.87,4.85,4.87,4.85];
const ncuLo = [4.45,4.5,4.45,4.4,4.45,4.5,4.45,4.45,4.4,4.45, 4.5,4.45,4.4,4.45,4.45,4.5,4.45,4.4,4.45,4.5, 4.45,4.4,4.45,4.5,4.45,4.45,4.4,4.45,4.5,4.45, 4.4,4.45,4.5,4.45,4.45,4.4,4.45,4.5,4.45,4.4, 4.45,4.5,4.45,4.4,4.45,4.45,4.5,4.45,4.4,4.45, 4.5,4.45,4.4,4.45,4.5,4.45,4.45,4.4,4.45,4.5, 4.45,4.4,4.45,4.5,4.45,4.45,4.4,4.45,4.5,4.45, 4.4,4.45,4.5,4.45,4.45,4.4,4.45,4.5,4.45,4.4, 4.45,4.5,4.45,4.4,4.45,4.5,4.45,4.45,4.5,4.45, 4.5,4.45,4.4,4.45,4.5,4.45,4.45,4.4,4.45,4.5, 4.45,4.4,4.45,4.5,4.45,4.45,4.4,4.45,4.5,4.45, 4.4,4.45,4.5,4.45,4.45,4.4,4.45,4.5,4.45,4.4, 4.45,4.5,4.45,4.4,4.45,4.4,4.45,4.45,4.4,4.45, 4.5,4.45,4.4,4.45,4.45,4.5,4.45,4.4,4.45,4.5, 4.45,4.4,4.45,4.5,4.45,4.45,4.4,4.45,4.5,4.45];
const ncuHi = [5.33,5.3,5.35,5.33,5.4,5.3,5.33,5.35,5.3,5.33, 5.3,5.35,5.33,5.3,5.33,5.35,5.3,5.28,5.33,5.35, 5.3,5.33,5.35,5.4,5.45,5.5,5.4,5.35,5.33,5.3, 5.35,5.33,5.3,5.35,5.33,5.3,5.5,5.5,5.45,5.5, 5.5,5.45,5.2,5.2,5.25,5.2,5.2,5.25,5.2,5.2, 5.3,5.35,5.4,5.3,5.25,5.3,5.35,5.3,5.35,5.3, 5.35,5.3,5.4,5.45,5.4,5.35,5.3,5.25,5.2,5.25, 5.3,5.25,5.2,5.25,5.5,5.3,5.35,5.3,5.25,5.3, 5.35,5.3,5.35,5.4,5.35,5.3,5.35,5.5,5.4,5.35, 5.4,5.35,5.3,5.35,5.4,5.35,5.4,5.35,5.3,5.45, 5.45,5.4,5.35,5.3,5.35,5.3,5.35,5.4,5.35,5.3, 5.35,5.3,5.35,5.4,5.35,5.3,5.35,5.3,5.35,5.4, 5.35,5.4,5.45,5.4,5.35,5.4,5.35,5.3,5.35,5.4, 5.35,5.3,5.35,5.4,5.35,5.45,5.4,5.35,5.3,5.35, 5.35,5.4,5.35,5.3,5.35,5.3,5.35,5.4,5.35,5.3];

// ---------- CHART ----------
const svg = d3.select("#c");
const W = 697, H = 394;
const L = 67, R = 667, T = 26.7, B = 228.5;
const t0 = new Date(Date.UTC(2025, 6, 28, 16, 46, 0));
const binMs = 12 * 60 * 1000;
const nBins = ntuMed.length;
const t1 = new Date(+t0 + nBins * binMs);
const x = d3.scaleUtc().domain([t0, t1]).range([L, R]);
const y = d3.scaleLinear().domain([0, 11]).range([B, T]);

const series = [
  {med: hinetMed, lo: hinetLo, hi: hinetHi},
  {med: googleMed, lo: googleLo, hi: googleHi},
  {med: cloudflareMed, lo: cloudflareLo, hi: cloudflareHi},
  {med: seednetMed, lo: seednetLo, hi: seednetHi},
  {med: sonetMed, lo: sonetLo, hi: sonetHi},
  {med: tfnMed, lo: tfnLo, hi: tfnHi},
  {med: ntuMed, lo: ntuLo, hi: ntuHi},
  {med: nckuMed, lo: nckuLo, hi: nckuHi},
  {med: ncuMed, lo: ncuLo, hi: ncuHi}
].map((s, i) => Object.assign(s, {name: hosts[i], color: hostColors[i]}));

// background + frame
svg.append("rect").attr("x",0).attr("y",0).attr("width",W).attr("height",H).attr("fill","#f3f3f3");
svg.append("path").attr("d",`M0,${H}V0H${W}`).attr("fill","none").attr("stroke","#cbcbcb").attr("stroke-width",3);
svg.append("path").attr("d",`M0,${H-1}H${W-1}V0`).attr("fill","none").attr("stroke","#999999").attr("stroke-width",3);

// plot canvas
svg.append("rect").attr("x",L).attr("y",T).attr("width",R-L).attr("height",B-T).attr("fill","#ffffff");
svg.append("clipPath").attr("id","pc").append("rect").attr("x",L).attr("y",T).attr("width",R-L).attr("height",B-T);

// grid
const gridG = svg.append("g").attr("shape-rendering","crispEdges");
const hours = d3.utcHour.range(d3.utcHour.ceil(t0), t1);
const minorCol = "rgba(140,140,140,0.45)", majorCol = "rgba(230,0,0,0.42)";
hours.forEach(h => {
  const major = h.getUTCHours() % 3 === 0;
  const px = Math.round(x(h)) + 0.5;
  gridG.append("line").attr("x1",px).attr("x2",px).attr("y1",T).attr("y2",B)
    .attr("stroke", major ? majorCol : minorCol).attr("stroke-dasharray","1,1");
});
d3.range(1, 22).map(k => k / 2).forEach(v => {
  const major = Number.isInteger(v);
  const py = Math.round(y(v)) + 0.5;
  gridG.append("line").attr("x1",L).attr("x2",R).attr("y1",py).attr("y2",py)
    .attr("stroke", major ? majorCol : minorCol).attr("stroke-dasharray","1,1");
});

// smoke + medians
const plotG = svg.append("g").attr("clip-path","url(#pc)");
const area = d3.area().x(d => x(d.t)).y0(d => y(Math.min(d.lo, 11.5))).y1(d => y(Math.min(d.hi, 11.5))).curve(d3.curveStepAfter);
const line = d3.line().x(d => x(d.t)).y(d => y(d.v)).curve(d3.curveStepAfter);
function pts(s) {
  const arr = s.med.map((v, i) => ({t: new Date(+t0 + i * binMs), v: v, lo: s.lo[i], hi: s.hi[i]}));
  const last = arr[arr.length - 1];
  arr.push({t: t1, v: last.v, lo: last.lo, hi: last.hi});
  return arr;
}
series.forEach(s => {
  plotG.append("path").attr("d", area(pts(s))).attr("fill", s.color).attr("fill-opacity", 0.2);
});
series.forEach(s => {
  plotG.append("path").attr("d", line(pts(s))).attr("fill","none").attr("stroke", s.color).attr("stroke-width",1.6);
});

// axes
const axisCol = "#3a3a3a", arrowCol = "#a01c2c";
const axG = svg.append("g").attr("shape-rendering","crispEdges");
axG.append("line").attr("x1",L-3).attr("x2",R+3).attr("y1",B).attr("y2",B).attr("stroke",axisCol);
axG.append("line").attr("x1",L-0.5).attr("x2",L-0.5).attr("y1",B+3).attr("y2",T-2).attr("stroke",axisCol);
hours.forEach(h => {
  const major = h.getUTCHours() % 3 === 0;
  const px = Math.round(x(h)) + 0.5;
  axG.append("line").attr("x1",px).attr("x2",px).attr("y1",B - (major?3:2)).attr("y2",B + (major?3:2)).attr("stroke",axisCol);
});
d3.range(1, 22).map(k => k / 2).forEach(v => {
  const major = Number.isInteger(v);
  const py = Math.round(y(v)) + 0.5;
  axG.append("line").attr("x1",L - 1 - (major?3:2)).attr("x2",L - 1 + (major?3:2)).attr("y1",py).attr("y2",py).attr("stroke",axisCol);
});
svg.append("path").attr("d",`M${L-3.5},${T}L${L-0.5},${T-5.5}L${L+2.5},${T}Z`).attr("fill",arrowCol);
svg.append("path").attr("d",`M${R+1},${B-3}L${R+6.5},${B}L${R+1},${B+3}Z`).attr("fill",arrowCol);

// axis labels
const tickFont = {size: "9.5px", ls: "0.35px"};
hours.filter(h => h.getUTCHours() % 6 === 0).forEach(h => {
  svg.append("text").attr("x", x(h)).attr("y", 240.7).attr("text-anchor","middle")
    .attr("font-size",tickFont.size).attr("letter-spacing",tickFont.ls).attr("fill","#000")
    .text(d3.utcFormat("%a %H:%M")(h));
});
yTickValues.forEach(v => {
  svg.append("text").attr("x", 48).attr("y", y(v) + 3.4).attr("text-anchor","end")
    .attr("font-size",tickFont.size).attr("letter-spacing",tickFont.ls).attr("fill","#000").text(String(v));
  if (v !== 0) svg.append("text").attr("x", 53.5).attr("y", y(v) + 3.4)
    .attr("font-size",tickFont.size).attr("fill","#000").text("m");
});

svg.append("text").attr("transform","translate(15,126) rotate(-90)").attr("text-anchor","middle")
  .attr("font-size","10.5px").attr("letter-spacing","0.8px").attr("fill","#000").text("Seconds");

svg.append("text").attr("x", 348).attr("y", 23.5).attr("text-anchor","middle")
  .attr("font-size","13px").attr("fill","#000").text(titleText);

svg.append("text").attr("transform","translate(685.5,5) rotate(90)")
  .attr("font-size","8.4px").attr("letter-spacing","0.1px").attr("fill","#a0a0a0").text("RRDTOOL / TOBI OETIKER");

// legend
const legG = svg.append("g").attr("font-size","11px").attr("letter-spacing","0.5px").attr("fill","#000");
hosts.forEach((name, i) => {
  const by = 257.7 + 14 * i;
  const off = i >= 6 ? -40 : 0;
  legG.append("rect").attr("x",15.5).attr("y",by - 8.2).attr("width",8).attr("height",8)
    .attr("fill", hostColors[i]).attr("stroke","#000").attr("stroke-width",1).attr("shape-rendering","crispEdges");
  legG.append("text").attr("x",30).attr("y",by).text(name);
  legG.append("text").attr("x",200 + off).attr("y",by).text(`${medianMs[i].toFixed(1)} ms av md`);
  legG.append("text").attr("x",321 + off).attr("y",by).text(`${lossPct[i].toFixed(1)} % av ls`);
  legG.append("text").attr("x",428.3 + off).attr("y",by).text(`${sdMs[i].toFixed(1)} ms sd`);
  legG.append("text").attr("x",521.7 + off).attr("y",by).text(amas[i].toFixed(1));
  legG.append("text").attr("x",563.3 + off).attr("y",by).text("am/as");
});
legG.append("text").attr("x",16.5).attr("y",383.6).text(footerText);
legG.append("text").attr("x",681).attr("y",383.6).attr("text-anchor","end").text(dateText);
</script>
</body></html>
